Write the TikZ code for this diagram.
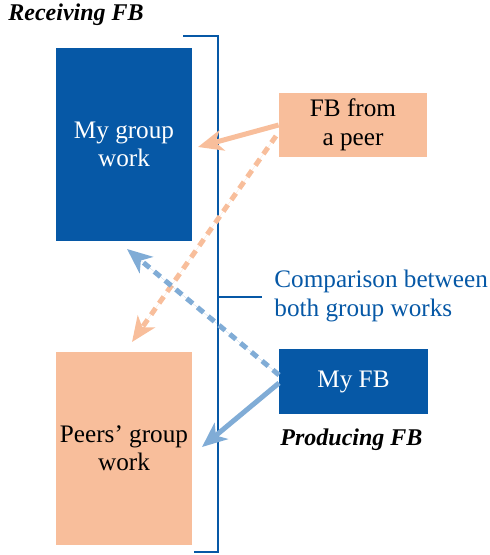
\documentclass[tikz,border=0pt]{standalone}
\usepackage{fontspec}
\setmainfont{Liberation Serif}
\usetikzlibrary{arrows.meta}
\definecolor{fbblue}{RGB}{6,88,166}
\definecolor{fbpeach}{RGB}{248,190,155}
\definecolor{fblight}{RGB}{128,172,214}
\tikzset{>={Stealth[length=12.5pt,width=10.5pt,inset=3.5pt]}}

\begin{document}
\begin{tikzpicture}[x=0.5pt,y=-0.5pt,
    box/.style={align=center,inner sep=0pt,font=\fontsize{12.6}{14.2}\selectfont},
    bluebox/.style={box,fill=fbblue,text=white},
    peachbox/.style={box,fill=fbpeach,text=black},
    heading/.style={font=\fontsize{12}{14}\selectfont\bfseries\itshape,inner sep=0pt},
    bracket/.style={draw=fbblue,line width=1.1pt},
    peerarrow/.style={->,draw=fbpeach,fill=fbpeach,line width=2.5pt},
    myarrow/.style={->,draw=fblight,fill=fblight,line width=2.5pt},
    dotted line/.style={dash pattern=on 4pt off 3pt}]
    \useasboundingbox (0,0) rectangle (489,555);
    \node[heading,anchor=west] (recv) at (8,15) {Receiving FB};
    \node[bluebox,minimum width=68pt,minimum height=96.5pt] (mywork) at (124,144.5) {My group\\work};
    \node[peachbox,minimum width=68pt,minimum height=96.5pt] (peerwork) at (124,448.5) {Peers' group\\work};
    \node[peachbox,minimum width=74pt,minimum height=32pt] (peerfb) at (353,125) {FB from\\a peer};
    \node[bluebox,minimum width=74.5pt,minimum height=32.5pt] (myfb) at (353.5,381.5) {My FB};
    \node[heading,anchor=west] (prod) at (280,440) {Producing FB};
    \node[box,text=fbblue,anchor=west,align=left] (comp) at (274,296) {Comparison between\\both group works};
    \coordinate (btop) at (218,36);
    \coordinate (bbot) at (218,552);
    \coordinate (bmid) at (218,297);
    \draw[bracket] (183,36) -- (btop) -- (bbot) -- (194,552);
    \draw[bracket] (bmid) -- (262,297);
    \coordinate (a1) at (198,147);
    \coordinate (a2s) at (276,136);
    \coordinate (a2) at (132,342);
    \coordinate (a3s) at (279,375);
    \coordinate (a3) at (127,249);
    \coordinate (a4s) at (279,383);
    \coordinate (a4) at (202,447);
    \draw[peerarrow] (peerfb.west) -- (a1);
    \draw[peerarrow,dotted line] (a2s) -- (a2);
    \draw[myarrow,dotted line] (a3s) -- (a3);
    \draw[myarrow] (a4s) -- (a4);
\end{tikzpicture}
\end{document}
